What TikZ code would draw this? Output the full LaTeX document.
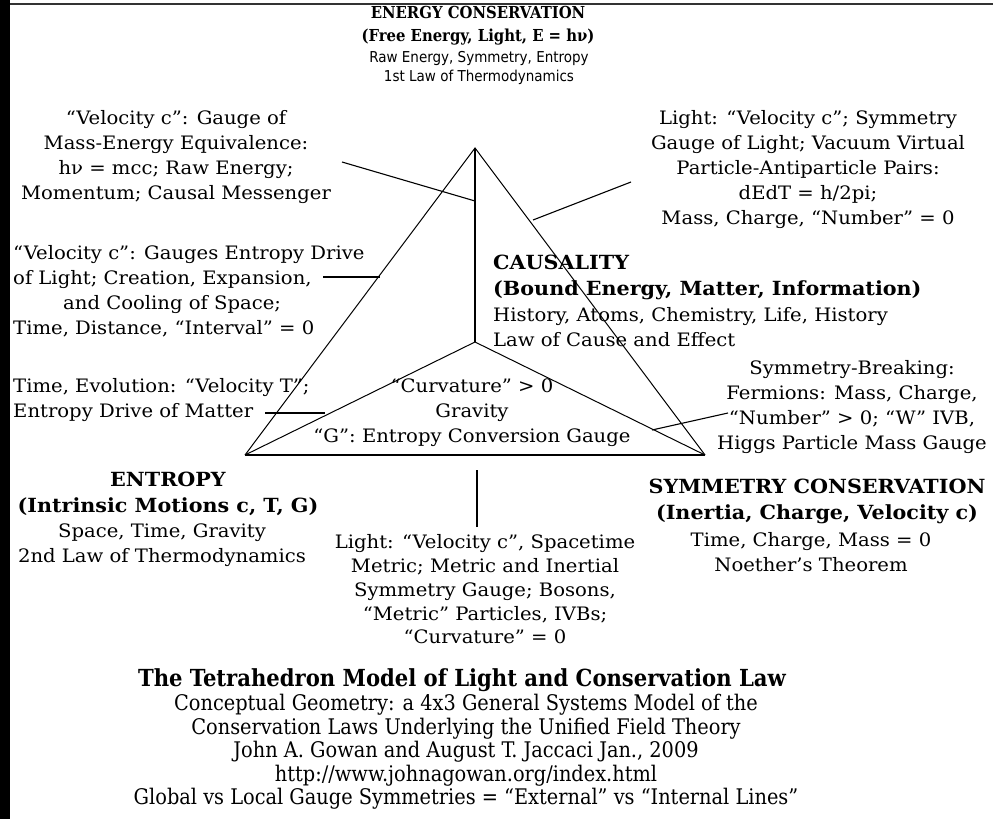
\documentclass[tikz,border=0pt]{standalone}
\usepackage{fontspec}
\setmainfont{DejaVuSerif}[Extension=.ttf,BoldFont=DejaVuSerif-Bold,FakeStretch=1.06]
\newfontfamily\headfont{DejaVuSerifCondensed}[Extension=.ttf,BoldFont=DejaVuSerifCondensed-Bold]
\newfontfamily\subfont{DejaVuSansCondensed}[Extension=.ttf]
\usepackage{tikz}

\begin{document}
\begin{tikzpicture}[x=1pt,y=-1pt,
    edge/.style={line width=1pt},
    mainedge/.style={line width=1.6pt},
    pointer/.style={line width=1.1pt},
    body/.style={font=\fontsize{18.5}{25}\selectfont, align=center, inner sep=0pt},
    heading/.style={font=\fontsize{19.5}{26}\selectfont\bfseries, align=center, inner sep=0pt},
    credit/.style={font=\headfont\fontsize{21.5}{23.5}\selectfont, align=center, inner sep=0pt}
  ]
  \useasboundingbox (0,0) rectangle (993,819);
  \fill (0,0) rectangle (10,819);
  \draw[line width=2pt, black!80] (10,4) -- (993,4);

  % corners of the tetrahedron
  \coordinate (apex) at (475,148);
  \coordinate (left) at (245,455);
  \coordinate (right) at (705,455);
  \coordinate (back) at (475,342);

  \draw[edge] (left) -- (apex) -- (right);
  \draw[mainedge] (left) -- (right);
  \draw[mainedge] (apex) -- (back);
  \draw[edge] (left) -- (back) -- (right);

  % vertex labels
  \node[font=\headfont\bfseries\fontsize{16.5}{23}\selectfont, align=center, inner sep=0pt] (energyhead) at (478,25.5)
    {ENERGY CONSERVATION\\(Free Energy, Light, E = hν)};
  \node[font=\subfont\fontsize{15}{19}\selectfont, align=center, inner sep=0pt] (energysub) at (479,67.5)
    {Raw Energy, Symmetry, Entropy\\1st Law of Thermodynamics};

  \node[heading, align=left, anchor=west] (causalhead) at (493,277.5)
    {CAUSALITY\\(Bound Energy, Matter, Information)};
  \node[body, align=left, anchor=west] (causalsub) at (493,327.5)
    {History, Atoms, Chemistry, Life, History\\Law of Cause and Effect};

  \node[heading] (entropyhead) at (168,493.5)
    {ENTROPY\\(Intrinsic Motions c, T, G)};
  \node[body] (entropysub) at (162,545.5)
    {Space, Time, Gravity\\2nd Law of Thermodynamics};

  \node[heading] (symmetryhead) at (817,501.5)
    {SYMMETRY CONSERVATION\\(Inertia, Charge, Velocity c)};
  \node[body] (symmetrysub) at (811,552.5)
    {Time, Charge, Mass = 0\\Noether’s Theorem};

  % edge labels
  \node[body] (masstext) at (176,157.5)
    {“Velocity c”: Gauge of\\Mass-Energy Equivalence:\\hν = mcc; Raw Energy;\\Momentum; Causal Messenger};
  \node[body] (lighttext) at (808,170)
    {Light: “Velocity c”; Symmetry\\Gauge of Light; Vacuum Virtual\\Particle-Antiparticle Pairs:\\dEdT = h/2pi;\\Mass, Charge, “Number” = 0};
  \node[body, align=left, anchor=west] (spacetext) at (13,291.5)
    {“Velocity c”: Gauges Entropy Drive\\of Light; Creation, Expansion,\\\hspace*{50pt}and Cooling of Space;\\Time, Distance, “Interval” = 0};
  \node[body, align=left, anchor=west] (evolutiontext) at (13,400.5)
    {Time, Evolution: “Velocity T”;\\Entropy Drive of Matter};
  \node[body] (gravitytext) at (472,413)
    {“Curvature” > 0\\Gravity\\“G”: Entropy Conversion Gauge};
  \node[body] (breakingtext) at (852,407.5)
    {Symmetry-Breaking:\\Fermions: Mass, Charge,\\“Number” > 0; “W” IVB,\\Higgs Particle Mass Gauge};
  \node[body, font=\fontsize{18.5}{23.75}\selectfont] (metrictext) at (485,589.5)
    {Light: “Velocity c”, Spacetime\\Metric; Metric and Inertial\\Symmetry Gauge; Bosons,\\“Metric” Particles, IVBs;\\“Curvature” = 0};

  % pointers
  \coordinate (massstart) at (342,162);
  \coordinate (massend) at (475,201);
  \coordinate (lightstart) at (631,182);
  \coordinate (lightend) at (533,220);
  \coordinate (spacestart) at (323,277);
  \coordinate (spaceend) at (380,277);
  \coordinate (evolutionstart) at (265,413);
  \coordinate (evolutionend) at (325,413);
  \coordinate (breakingstart) at (728,413);
  \coordinate (breakingend) at (652,430);
  \coordinate (metricstart) at (477,527);
  \coordinate (metricend) at (477,470);
  \draw[pointer] (massstart) -- (massend);
  \draw[pointer] (lightstart) -- (lightend);
  \draw[pointer] (spacestart) -- (spaceend);
  \draw[pointer] (evolutionstart) -- (evolutionend);
  \draw[pointer] (breakingstart) -- (breakingend);
  \draw[pointer] (metricstart) -- (metricend);

  % caption
  \node[credit, font=\headfont\bfseries\fontsize{23.5}{23.5}\selectfont] (title) at (462,680)
    {The Tetrahedron Model of Light and Conservation Law};
  \node[credit] (credits) at (466,752)
    {Conceptual Geometry: a 4x3 General Systems Model of the\\Conservation Laws Underlying the Unified Field Theory\\John A. Gowan and August T. Jaccaci Jan., 2009\\http://www.johnagowan.org/index.html\\Global vs Local Gauge Symmetries = “External” vs “Internal Lines”};
\end{tikzpicture}
\end{document}
